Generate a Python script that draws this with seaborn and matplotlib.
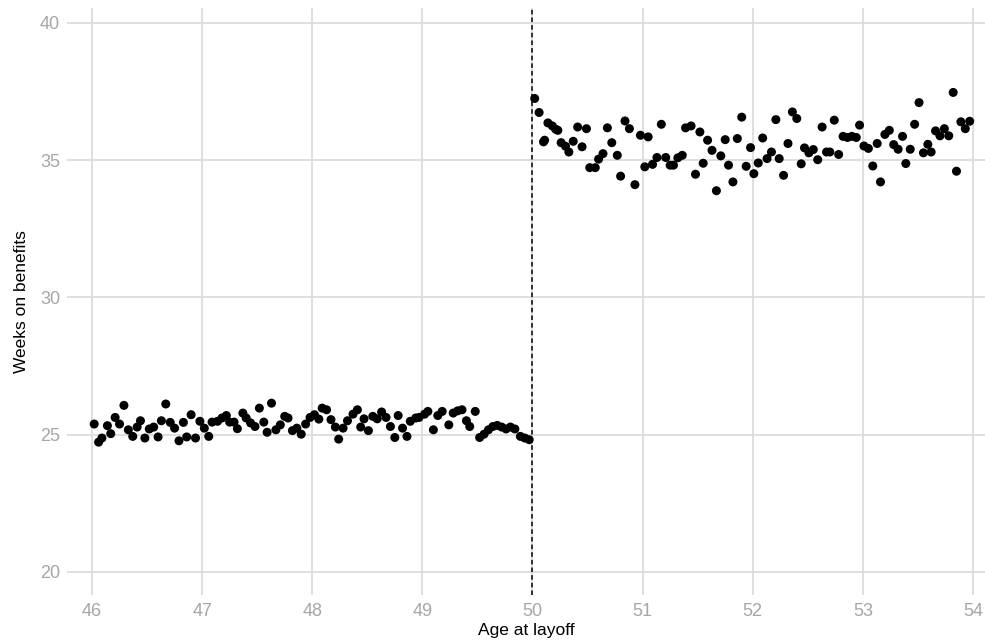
import numpy as np
import pandas as pd
import matplotlib
matplotlib.use("Agg")
import matplotlib.pyplot as plt
import seaborn as sns

# ---- datos (edad al despido vs semanas con beneficio) ----
edad_izq = [46.02, 46.06, 46.09, 46.14, 46.17, 46.21, 46.25, 46.29, 46.33, 46.37,
            46.41, 46.44, 46.48, 46.52, 46.56, 46.60, 46.63, 46.67, 46.71, 46.75,
            46.79, 46.83, 46.86, 46.90, 46.94, 46.98, 47.02, 47.06, 47.09, 47.14,
            47.18, 47.22, 47.25, 47.29, 47.32, 47.37, 47.40, 47.44, 47.48, 47.52,
            47.56, 47.59, 47.63, 47.67, 47.71, 47.75, 47.78, 47.82, 47.86, 47.90,
            47.94, 47.98, 48.02, 48.06, 48.09, 48.13, 48.17, 48.21, 48.24, 48.28,
            48.32, 48.37, 48.41, 48.44, 48.47, 48.51, 48.55, 48.59, 48.63, 48.67,
            48.71, 48.75, 48.78, 48.82, 48.86, 48.89, 48.94, 48.97, 49.02, 49.05,
            49.10, 49.14, 49.18, 49.24, 49.28, 49.32, 49.36, 49.40, 49.43, 49.48,
            49.52, 49.56, 49.60, 49.64, 49.68, 49.72, 49.76, 49.80, 49.84, 49.89,
            49.93, 49.97]
semanas_izq = [25.39, 24.73, 24.88, 25.33, 25.04, 25.63, 25.39, 26.07, 25.18, 24.94,
               25.28, 25.51, 24.88, 25.21, 25.28, 24.92, 25.51, 26.12, 25.45, 25.24,
               24.78, 25.45, 24.92, 25.73, 24.88, 25.49, 25.24, 24.94, 25.46, 25.49,
               25.61, 25.70, 25.46, 25.46, 25.22, 25.79, 25.61, 25.43, 25.30, 25.97,
               25.46, 25.09, 26.15, 25.18, 25.36, 25.67, 25.61, 25.15, 25.24, 25.02,
               25.39, 25.63, 25.73, 25.57, 25.97, 25.91, 25.55, 25.28, 24.84, 25.24,
               25.51, 25.75, 25.91, 25.28, 25.58, 25.15, 25.67, 25.58, 25.83, 25.63,
               25.30, 24.90, 25.70, 25.24, 24.94, 25.49, 25.61, 25.63, 25.75, 25.85,
               25.18, 25.70, 25.85, 25.36, 25.79, 25.87, 25.91, 25.51, 25.30, 25.85,
               24.90, 25.02, 25.18, 25.30, 25.34, 25.28, 25.21, 25.28, 25.21, 24.94,
               24.88, 24.82]

edad_der = [50.02, 50.06, 50.10, 50.11, 50.14, 50.18, 50.21, 50.23, 50.26, 50.30,
            50.33, 50.37, 50.41, 50.45, 50.49, 50.52, 50.57, 50.60, 50.64, 50.68,
            50.72, 50.77, 50.80, 50.84, 50.88, 50.93, 50.98, 51.02, 51.05, 51.09,
            51.13, 51.17, 51.21, 51.25, 51.28, 51.32, 51.36, 51.39, 51.44, 51.48,
            51.52, 51.55, 51.59, 51.63, 51.67, 51.71, 51.75, 51.78, 51.82, 51.86,
            51.90, 51.94, 51.98, 52.01, 52.05, 52.09, 52.13, 52.17, 52.21, 52.24,
            52.28, 52.32, 52.36, 52.40, 52.44, 52.47, 52.51, 52.55, 52.59, 52.63,
            52.67, 52.70, 52.74, 52.78, 52.82, 52.86, 52.90, 52.94, 52.97, 53.01,
            53.05, 53.09, 53.13, 53.16, 53.20, 53.24, 53.28, 53.32, 53.36, 53.39,
            53.43, 53.47, 53.51, 53.55, 53.59, 53.62, 53.66, 53.70, 53.74, 53.78,
            53.82, 53.85, 53.89, 53.93, 53.97]
semanas_der = [37.25, 36.74, 35.67, 35.73, 36.36, 36.25, 36.13, 36.09, 35.64, 35.51,
               35.30, 35.69, 36.21, 35.49, 36.15, 34.73, 34.73, 35.04, 35.24, 36.18,
               35.64, 35.18, 34.42, 36.43, 36.15, 34.11, 35.91, 34.76, 35.85, 34.85,
               35.10, 36.31, 35.10, 34.82, 34.82, 35.09, 35.18, 36.18, 36.25, 34.49,
               36.03, 34.89, 35.73, 35.36, 33.89, 35.16, 35.75, 34.82, 34.21, 35.79,
               36.57, 34.78, 35.46, 34.51, 34.90, 35.81, 35.06, 35.30, 36.48, 35.06,
               34.45, 35.61, 36.76, 36.52, 34.87, 35.45, 35.27, 35.39, 35.02, 36.21,
               35.30, 35.30, 36.46, 35.21, 35.87, 35.83, 35.87, 35.83, 36.28, 35.52,
               35.43, 34.79, 35.61, 34.21, 35.94, 36.09, 35.57, 35.40, 35.87, 34.88,
               35.40, 36.31, 37.10, 35.27, 35.58, 35.30, 36.07, 35.89, 36.15, 35.89,
               37.47, 34.60, 36.40, 36.15, 36.42]

corte = 50
x_ticks = [46, 47, 48, 49, 50, 51, 52, 53, 54]
y_ticks = [20, 25, 30, 35, 40]

df = pd.DataFrame({
    'edad': edad_izq + edad_der,
    'semanas': semanas_izq + semanas_der,
})

# ---- grafico ----
sns.set_theme(style='whitegrid')
plt.rcParams['font.family'] = ['Liberation Sans', 'DejaVu Sans']

fig = plt.figure(figsize=(9.85, 6.43), dpi=100)
ax = fig.add_axes([67 / 985, 48 / 643, 918 / 985, 587 / 643])

sns.scatterplot(data=df, x='edad', y='semanas', color='black', s=42,
                edgecolor='none', ax=ax)
ax.axvline(corte, color='black', linestyle=(0, (3, 2)), linewidth=1.1)

ax.set_xlim(45.773, 54.109)
ax.set_ylim(19.162, 40.546)
ax.set_xticks(x_ticks)
ax.set_yticks(y_ticks)
ax.grid(True, color='#dcdcdc', linewidth=1.3)
for s in ax.spines.values():
    s.set_visible(False)
ax.tick_params(axis='both', length=0, labelsize=13, labelcolor='#a6a6a6')
ax.tick_params(axis='x', pad=6)
ax.tick_params(axis='y', pad=5)
ax.set_xlabel('Age at layoff', fontsize=12.5, color='black', labelpad=2)
ax.set_ylabel('Weeks on benefits', fontsize=12.5, color='black', labelpad=8)

fig.savefig('out.png', dpi=100, facecolor='white')
